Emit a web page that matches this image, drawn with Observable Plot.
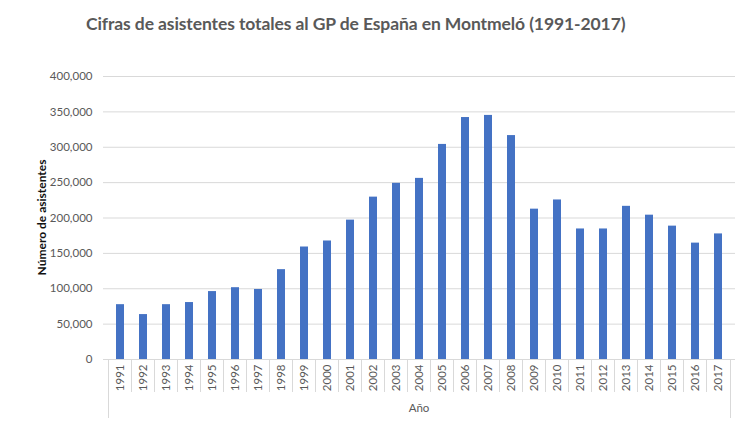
<!DOCTYPE html>
<html><head><meta charset="utf-8">
<script src="https://cdn.jsdelivr.net/npm/d3@7"></script>
<script src="https://cdn.jsdelivr.net/npm/@observablehq/plot@0.6"></script>
<style>
body{margin:0;background:#fff;width:739px;height:424px;overflow:hidden;font-family:Lato,sans-serif}
#title{position:relative;height:50px;}
#title span{position:absolute;left:86px;top:14px;font-size:17.5px;line-height:20px;font-weight:700;color:#595959;white-space:nowrap;letter-spacing:-0.1px}
#chart svg{display:block}
</style></head><body>
<div id="title"><span>Cifras de asistentes totales al GP de España en Montmeló (1991-2017)</span></div>
<div id="chart"></div>
<script>
const years = [1991,1992,1993,1994,1995,1996,1997,1998,1999,2000,2001,2002,2003,2004,2005,2006,2007,2008,2009,2010,2011,2012,2013,2014,2015,2016,2017];
const asistentes = [77500,63500,77500,80500,96000,101500,99000,127000,159000,167500,197000,229500,249000,256000,304000,342000,345000,316500,212500,225500,184500,184500,216500,204000,188500,164500,177500];
const yTicks = [0,50000,100000,150000,200000,250000,300000,350000,400000];
const yLabel = "Número de asistentes";
const xLabel = "Año";

const data = years.map((y,i)=>({year:String(y), value:asistentes[i]}));
const W=739,H=374,mL=103,mR=4,mT=26,mB=65;
const pI=0.66;
const chart = Plot.plot({
  width:W,height:H,marginLeft:mL,marginRight:mR,marginTop:mT,marginBottom:mB,
  style:{fontFamily:"Lato, sans-serif",fontSize:"11.5px",color:"#595959",background:"#fff",overflow:"visible"},
  x:{type:"band",domain:years.map(String),paddingInner:pI,paddingOuter:pI/2,axis:null},
  y:{domain:[0,400000],axis:null},
  marks:[
    Plot.gridY(yTicks,{stroke:"#d9d9d9",strokeOpacity:1}),
    Plot.barY(data,{x:"year",y:"value",fill:"#4472C4"}),
    Plot.axisX({tickSize:0,tickRotate:-90,tickPadding:5,label:null}),
    Plot.axisY(yTicks,{tickSize:0,tickPadding:11,tickFormat:d3.format(","),label:null})
  ]
});
document.getElementById("chart").appendChild(chart);

const xs = chart.scale("x");
const ys = chart.scale("y");
const svg = d3.select(chart);
const step = xs.step, bw = xs.bandwidth;
const y0 = ys.apply(0);
const g = svg.append("g").attr("stroke","#d9d9d9").attr("stroke-width",1);
const bounds = years.map(y=>xs.apply(String(y)) - step*pI/2);
bounds.push(xs.apply(String(years[years.length-1])) + bw + step*pI/2);
bounds.forEach((bx,i)=>{
  const outer = (i===0 || i===bounds.length-1);
  g.append("line").attr("x1",Math.round(bx)+0.5).attr("x2",Math.round(bx)+0.5)
   .attr("y1",y0).attr("y2",outer? y0+59 : y0+33);
});
svg.append("text").attr("x",(bounds[0]+bounds[bounds.length-1])/2).attr("y",y0+49)
  .attr("text-anchor","middle").attr("dy","0.35em").attr("fill","#595959")
  .style("font-size","11.5px").text(xLabel);
svg.append("text").attr("transform",`translate(42,${(ys.apply(0)+ys.apply(400000))/2}) rotate(-90)`)
  .attr("text-anchor","middle").attr("dy","0.35em").attr("fill","#111")
  .style("font-size","12px").style("font-weight","700").text(yLabel);
</script>
</body></html>
